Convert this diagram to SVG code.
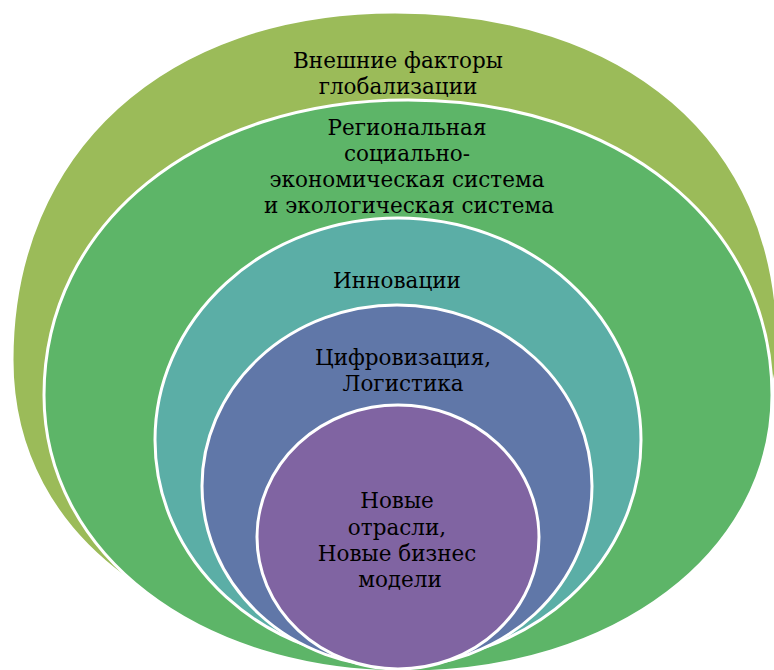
<svg xmlns="http://www.w3.org/2000/svg" width="774" height="670" viewBox="0 0 774 670">
<style>
.ring{stroke:#ffffff;stroke-width:3}
.lbl{font-family:'DejaVu Serif','Liberation Serif',serif;font-size:21.5px;fill:#000000;text-anchor:middle}
</style>
<rect width="774" height="670" fill="#ffffff"/>
<g id="n1">
<path class="ring" fill="#9BBB59" d="M12,360 C12,151 165,12 395,12 C625,12 778,140 778,345 C778,480 600,655 395,655 C184,655 12,545 12,360 Z"/>
<text class="lbl" x="398" y="68">Внешние факторы</text>
<text class="lbl" x="398" y="94">глобализации</text>
</g>
<g id="n2">
<path class="ring" fill="#5DB568" d="M44,395 C44,224 197,100 408,100 C619,100 772,224 772,395 C772,553 615,672 406,672 C197,672 44,553 44,395 Z"/>
<text class="lbl" x="407" y="135">Региональная</text>
<text class="lbl" x="407" y="161">социально-</text>
<text class="lbl" x="407" y="187">экономическая система</text>
<text class="lbl" x="409" y="213">и экологическая система</text>
</g>
<g id="n3">
<ellipse class="ring" fill="#5BAEA6" cx="398" cy="440" rx="243" ry="222"/>
<text class="lbl" x="397" y="288">Инновации</text>
</g>
<g id="n4">
<ellipse class="ring" fill="#6077A8" cx="397" cy="486" rx="195" ry="181"/>
<text class="lbl" x="403" y="365">Цифровизация,</text>
<text class="lbl" x="403" y="391">Логистика</text>
</g>
<g id="n5">
<ellipse class="ring" fill="#8064A2" cx="398" cy="537" rx="141" ry="132"/>
<text class="lbl" x="397" y="508">Новые</text>
<text class="lbl" x="397" y="535">отрасли,</text>
<text class="lbl" x="397" y="561">Новые бизнес</text>
<text class="lbl" x="400" y="587">модели</text>
</g>
<g id="connectors"></g>
</svg>
